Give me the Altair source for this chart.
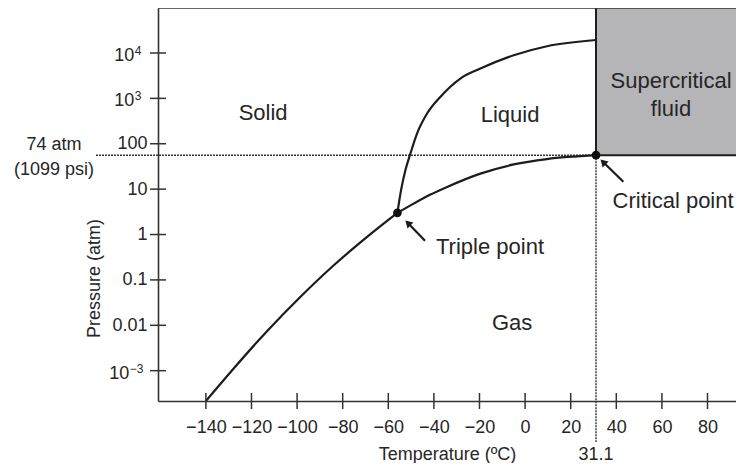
import altair as alt
import pandas as pd

FONT = "Liberation Sans"
INK = "#262626"

# ---- axes ----
x_domain = [-161, 92.5]
y_domain = [2.148e-4, 9.795e4]
x_ticks = [-140, -120, -100, -80, -60, -40, -20, 0, 20, 40, 60, 80]
y_ticks = [1e-3, 1e-2, 1e-1, 1, 10, 100, 1e3, 1e4]
y_tick_labels = ["", "0.01", "0.1", "1", "10", "100", "", ""]
# power-of-ten tick labels (base + superscript exponent)
exp_tick_P = [1e-3, 1e3, 1e4]
exp_base = ["10", "10", "10"]
exp_sup = ["−3", "3", "4"]
exp_T = [-173.6, -171.4, -171.4]

# ---- phase boundaries ----
sub_T = [-140, -127.8, -113.2, -98.6, -83.9, -69.3, -56]
sub_P = [2.148e-4, 1.12e-3, 7.4e-3, 0.042, 0.21, 0.885, 3.0]
melt_T = [-56, -54.4, -52.5, -50.3, -47.4, -43.0, -37.2, -28.4, -19.6, -5.0, 9.6, 31.1]
melt_P = [3.0, 9.5, 26, 61, 168, 463, 1075, 2735, 4540, 8900, 14100, 19300]
vap_T = [-56, -48.9, -41.5, -34.2, -19.6, -5.0, 9.6, 31.1]
vap_P = [3.0, 4.8, 7.6, 11.2, 22, 35, 46, 56]

T_triple, P_triple = -56, 3.0
T_crit, P_crit = 31.1, 56

# ---- annotations ----
region_labels = ["Solid", "Liquid", "Gas", "Supercritical\nfluid", "Triple point", "Critical point"]
region_T = [-114.9, -6.6, -5.7, 64.0, -15.4, 64.9]
region_P = [476, 430, 0.01125, 2400, 0.532, 5.48]
side_labels = ["74 atm", "(1099 psi)"]
side_T = [-206.6, -206.6]
side_P = [94, 26.4]
crit_label = ["31.1"]
crit_label_T = [31.1]
crit_label_P = [1.1e-5]
arrow_tail_T = [-43.9, 43.1]
arrow_tail_P = [0.731, 14.6]
arrow_head_T = [-51.4, 34.2]
arrow_head_P = [1.795, 39.6]

x_enc = alt.X("T:Q", scale=alt.Scale(domain=x_domain, nice=False, zero=False),
              axis=alt.Axis(values=x_ticks, ticks=False, grid=False, labelPadding=17,
                            title="Temperature (ºC)", titleY=58, titleBaseline="alphabetic",
                            titleFontWeight="normal"))
y_enc = alt.Y("P:Q", scale=alt.Scale(type="log", domain=y_domain, nice=False),
              axis=alt.Axis(values=y_ticks, ticks=False, grid=False, labelPadding=11,
                            labelExpr="%s[round(log(datum.value)/LN10)+3]" % str(y_tick_labels).replace("'", '"'),
                            title="Pressure (atm)", titleX=-59, titleY=270, titleAngle=-90,
                            titleBaseline="alphabetic", titleAlign="center",
                            titleFontWeight="normal"))

rows = []
for name, Ts, Ps in [("sub", sub_T, sub_P), ("melt", melt_T, melt_P), ("vap", vap_T, vap_P)]:
    for i, (t, p) in enumerate(zip(Ts, Ps)):
        rows.append({"curve": name, "i": i, "T": t, "P": p})
curves_df = pd.DataFrame(rows)

box = alt.Chart(pd.DataFrame({"T": [T_crit], "T2": [120], "P": [P_crit], "P2": [1e6]})).mark_rect(
    fill="#b5b5b8", stroke="#1e1e1e", strokeWidth=2, clip=True
).encode(x=x_enc, x2="T2:Q", y=y_enc, y2="P2:Q")

frame_top = alt.Chart(pd.DataFrame({"T": [x_domain[0]], "T2": [x_domain[1]], "P": [y_domain[1]]})).mark_rule(
    color="#333", strokeWidth=1.5
).encode(x=x_enc, x2="T2:Q", y=y_enc)

dash_h = alt.Chart(pd.DataFrame({"T": [-188.2], "T2": [T_crit], "P": [P_crit]})).mark_rule(
    color="#333", strokeWidth=1.4, strokeDash=[2, 1]
).encode(x=x_enc, x2="T2:Q", y=y_enc)

dash_v = alt.Chart(pd.DataFrame({"T": [T_crit], "P": [P_crit], "P2": [2.7e-5]})).mark_rule(
    color="#333", strokeWidth=1.4, strokeDash=[2, 1]
).encode(x=x_enc, y=y_enc, y2="P2:Q")

lines = alt.Chart(curves_df).mark_line(color="#1c1c1c", strokeWidth=2.2, interpolate="monotone").encode(
    x=x_enc, y=y_enc, detail="curve:N", order="i:Q")

dots = alt.Chart(pd.DataFrame({"T": [T_triple, T_crit], "P": [P_triple, P_crit]})).mark_point(
    filled=True, color="#111", size=75, opacity=1
).encode(x=x_enc, y=y_enc)

arrows_df = pd.DataFrame({"T": arrow_tail_T, "P": arrow_tail_P, "T2": arrow_head_T, "P2": arrow_head_P})
arrow_lines = alt.Chart(arrows_df).mark_rule(color="#1c1c1c", strokeWidth=2.2).encode(
    x=x_enc, y=y_enc, x2="T2:Q", y2="P2:Q")
arrow_heads = alt.Chart(pd.DataFrame({"T": arrow_head_T, "P": arrow_head_P})).mark_point(
    shape="triangle-up", filled=True, color="#1c1c1c", size=70, angle=315, opacity=1
).encode(x=x_enc, y=y_enc)

region_text = alt.Chart(pd.DataFrame({"T": region_T, "P": region_P, "label": region_labels})).mark_text(
    font=FONT, fontSize=22, color=INK, align="center", baseline="middle", lineBreak="\n", lineHeight=28
).encode(x=x_enc, y=y_enc, text="label:N")

side_text = alt.Chart(pd.DataFrame({"T": side_T, "P": side_P, "label": side_labels})).mark_text(
    font=FONT, fontSize=18, color=INK, align="center", baseline="middle"
).encode(x=x_enc, y=y_enc, text="label:N")

crit_text = alt.Chart(pd.DataFrame({"T": crit_label_T, "P": crit_label_P, "label": crit_label})).mark_text(
    font=FONT, fontSize=18, color=INK, align="center", baseline="alphabetic"
).encode(x=x_enc, y=y_enc, text="label:N")

exp_df = pd.DataFrame({"T": exp_T, "P": exp_tick_P, "base": exp_base, "sup": exp_sup})
exp_base_text = alt.Chart(exp_df).mark_text(
    font=FONT, fontSize=18, color=INK, align="right", baseline="middle", dy=3
).encode(x=x_enc, y=y_enc, text="base:N")
exp_sup_text = alt.Chart(exp_df).mark_text(
    font=FONT, fontSize=12, color=INK, align="left", baseline="middle", dy=-2, dx=0.5
).encode(x=x_enc, y=y_enc, text="sup:N")

ytick_rules = alt.Chart(pd.DataFrame({"T": [x_domain[0]] * len(y_ticks), "T2": [x_domain[0]] * len(y_ticks),
                                      "P": y_ticks})).mark_rule(
    color="#333", strokeWidth=1.5, xOffset=-8, x2Offset=8
).encode(x=x_enc, x2="T2:Q", y=y_enc)

xtick_rules = alt.Chart(pd.DataFrame({"T": x_ticks, "P": [y_domain[0]] * len(x_ticks),
                                      "P2": [y_domain[0]] * len(x_ticks)})).mark_rule(
    color="#333", strokeWidth=1.5, yOffset=-8, y2Offset=8
).encode(x=x_enc, y=y_enc, y2="P2:Q")

chart = alt.layer(
    box, frame_top, dash_h, dash_v, lines, dots, arrow_lines, arrow_heads,
    region_text, side_text, crit_text, exp_base_text, exp_sup_text, ytick_rules, xtick_rules
).properties(
    width=578, height=393, autosize="none",
    padding={"left": 150, "top": 0, "right": 0, "bottom": 62},
    background="white"
).configure_view(stroke=None).configure_axis(
    labelFont=FONT, labelFontSize=18, labelColor=INK, titleFont=FONT, titleFontSize=18,
    titleColor=INK, domainColor="#333", domainWidth=1.6
)

chart.save("out.html", embed_options={"renderer": "svg", "actions": False})
